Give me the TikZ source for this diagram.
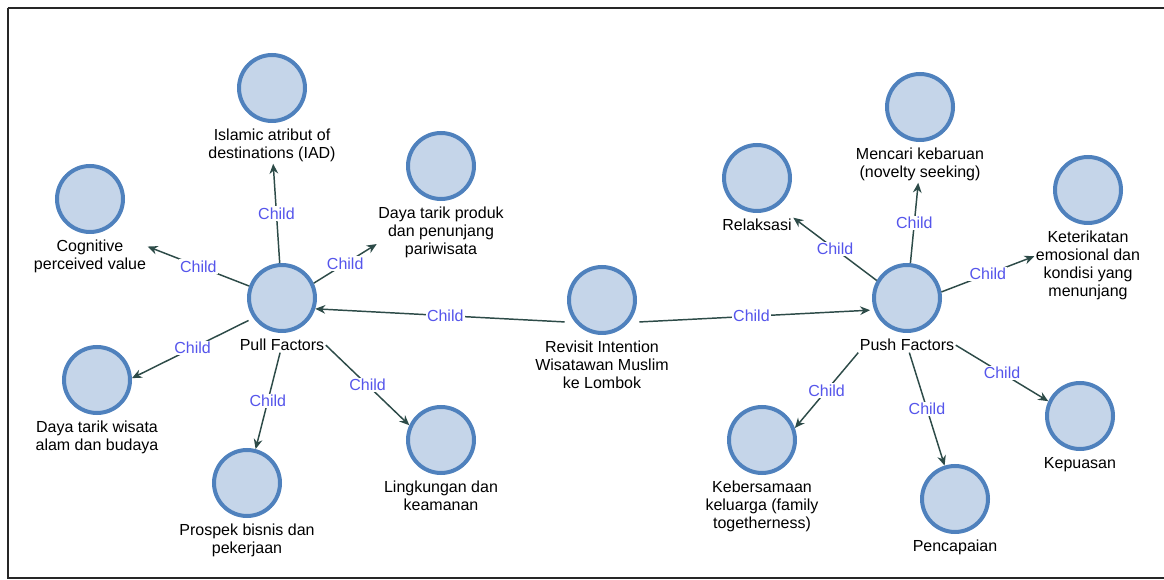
\documentclass[tikz,border=0pt]{standalone}
\usepackage{fontspec}
\setmainfont{Liberation Sans}
\usetikzlibrary{positioning,arrows.meta}
\definecolor{ringblue}{RGB}{79,129,189}
\definecolor{discfill}{RGB}{197,213,233}
\definecolor{linkgray}{RGB}{45,75,72}
\definecolor{childblue}{RGB}{85,85,235}

\begin{document}
\begin{tikzpicture}[x=0.75pt, y=-0.75pt, node distance=3.5pt, >={Stealth[length=7.5pt,width=6.5pt]}]
        \tikzstyle{disc}=[circle, draw=ringblue, fill=discfill, line width=3pt, minimum size=49.5pt, inner sep=0pt]
        \tikzstyle{lbl}=[align=center, font=\fontsize{12}{13.5}\selectfont, inner sep=1pt]
        \tikzstyle{conn}=[->, draw=linkgray, line width=1.1pt]
        \tikzstyle{childtag}=[fill=white, text=childblue, font=\fontsize{12}{13.5}\selectfont, inner sep=1pt]

        \useasboundingbox (0,0) rectangle (1164,580);
        \draw[line width=1.6pt, black!85] (7.7,7.7) -- (1200,7.7);
        \draw[line width=1.6pt, black!85] (7.7,7.7) -- (7.7,578.3) -- (1200,578.3);

        % centre
        \node[disc] (revisit) at (602,300) {};
        \node[lbl, below=of revisit] (revisit-l) {Revisit Intention\\Wisatawan Muslim\\ke Lombok};

        % pull side
        \node[disc] (pull) at (282,298) {};
        \node[lbl, below=of pull] (pull-l) {Pull Factors};
        \node[disc] (islamic) at (272,88) {};
        \node[lbl, below=of islamic] (islamic-l) {Islamic atribut of\\destinations (IAD)};
        \node[disc] (cog) at (90,199) {};
        \node[lbl, below=of cog] (cog-l) {Cognitive\\perceived value};
        \node[disc] (produk) at (441,166) {};
        \node[lbl, below=of produk] (produk-l) {Daya tarik produk\\dan penunjang\\pariwisata};
        \node[disc] (wisata) at (97,380) {};
        \node[lbl, below=of wisata] (wisata-l) {Daya tarik wisata\\alam dan budaya};
        \node[disc] (prospek) at (247,483) {};
        \node[lbl, below=of prospek] (prospek-l) {Prospek bisnis dan\\pekerjaan};
        \node[disc] (ling) at (441,440) {};
        \node[lbl, below=of ling] (ling-l) {Lingkungan dan\\keamanan};

        % push side
        \node[disc] (push) at (907,298) {};
        \node[lbl, below=of push] (push-l) {Push Factors};
        \node[disc] (relaks) at (757,178) {};
        \node[lbl, below=of relaks] (relaks-l) {Relaksasi};
        \node[disc] (mencari) at (920,107) {};
        \node[lbl, below=of mencari] (mencari-l) {Mencari kebaruan\\(novelty seeking)};
        \node[disc] (keter) at (1088,190) {};
        \node[lbl, below=of keter] (keter-l) {Keterikatan\\emosional dan\\kondisi yang\\menunjang};
        \node[disc] (kebers) at (762,440) {};
        \node[lbl, below=of kebers] (kebers-l) {Kebersamaan\\keluarga (family\\togetherness)};
        \node[disc] (pencap) at (955,499) {};
        \node[lbl, below=of pencap] (pencap-l) {Pencapaian};
        \node[disc] (kepuas) at (1080,416) {};
        \node[lbl, below=of kepuas] (kepuas-l) {Kepuasan};

        \draw[conn, shorten <=8pt] (revisit.220) -- node[childtag] {Child} (pull.-18);
        \draw[conn, shorten <=8pt, shorten >=3pt] (revisit.-40) -- node[childtag] {Child} (push.200);

        \draw[conn] (pull) -- node[childtag] {Child} (islamic-l);
        \draw[conn] (pull.160) -- node[childtag] {Child} (cog-l.10);
        \draw[conn] (pull.25) -- node[childtag] {Child} (produk-l.190);
        \draw[conn, shorten <=4pt] (pull.215) -- node[childtag] {Child} (wisata.3);
        \draw[conn] (pull-l) -- node[childtag] {Child} (prospek);
        \draw[conn] (pull-l.east) -- node[childtag] {Child} (ling.155);

        \draw[conn] (push.150) -- node[childtag] {Child} (relaks-l.north east);
        \draw[conn] (push) -- node[childtag] {Child} (mencari-l);
        \draw[conn] (push.10) -- node[childtag] {Child} (keter-l.170);
        \draw[conn] (push-l.south west) -- node[childtag] {Child} (kebers.20);
        \draw[conn] (push-l) -- node[childtag] {Child} (pencap);
        \draw[conn] (push-l.east) -- node[childtag] {Child} (kepuas.155);
\end{tikzpicture}
\end{document}
